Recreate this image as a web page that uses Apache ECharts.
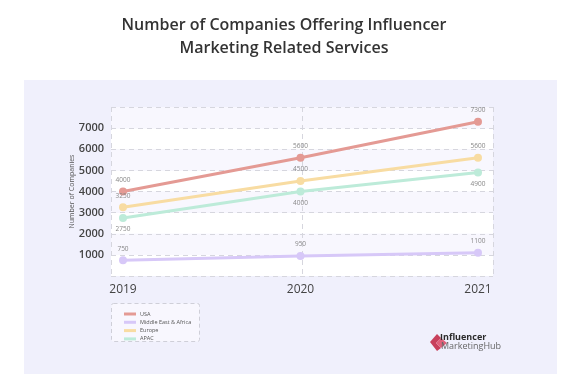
<!DOCTYPE html>
<html><head><meta charset="utf-8">
<script src="https://cdn.jsdelivr.net/npm/echarts@6/dist/echarts.min.js"></script>
<style>html,body{margin:0;padding:0;background:#fff}#c{width:578px;height:391px}</style>
</head><body><div id="c"></div>
<script>
var years = ['2019', '2020', '2021'];
var usa = [4000, 5600, 7300];
var mea = [750, 950, 1100];
var europe = [3250, 4500, 5600];
var apac = [2750, 4000, 4900];
var seriesNames = ['USA', 'Middle East & Africa', 'Europe', 'APAC'];
var colors = ['#e49a94', '#d7c8f8', '#f8dca2', '#bdebd9'];

var chart = echarts.init(document.getElementById('c'));
var GT = 107, GB = 115;
function mk(name, data, color, pos) {
  return {
    name: name, type: 'line', xAxisIndex: 1, yAxisIndex: 1, data: data,
    symbol: 'circle', symbolSize: 8,
    lineStyle: {color: color, width: 3},
    itemStyle: {color: color},
    label: {show: true, position: pos, distance: 4, fontSize: 6.5, color: '#888', fontFamily: 'Open Sans'},
    z: 5
  };
}
chart.setOption({
  animation: false,
  textStyle: {fontFamily: 'Open Sans'},
  title: {
    text: 'Number of Companies Offering Influencer\nMarketing Related Services',
    left: 279, top: 9, textAlign: 'center',
    textStyle: {fontSize: 16, fontWeight: 600, color: '#333', lineHeight: 23, fontFamily: 'Open Sans'}
  },
  graphic: [
    {type: 'rect', shape: {x: 24, y: 80, width: 533, height: 294}, style: {fill: '#f0f0fc'}, z: -10},
    {type: 'rect', shape: {x: 111.5, y: 303.5, width: 88, height: 38, r: 2}, style: {fill: '#f8f7fe', stroke: '#cfcfd8', lineWidth: 1, lineDash: [4, 3]}, z: -5},
    {type: 'polygon', shape: {points: [[430, 342], [437, 334], [441, 338], [436, 343], [441, 348], [437, 351]]}, style: {fill: '#c8405c'}, z: 10},
    {type: 'polygon', shape: {points: [[436, 343], [441, 338], [447, 343], [441, 348]]}, style: {fill: '#e0607a'}, z: 10},
    {type: 'text', x: 440, y: 337, style: {text: 'Influencer', fontSize: 9, fontWeight: 'bold', fill: '#2b2b2b', textVerticalAlign: 'middle', fontFamily: 'Open Sans'}, z: 10},
    {type: 'text', x: 441, y: 346.5, style: {text: 'MarketingHub', fontSize: 9, fill: '#666', textVerticalAlign: 'middle', fontFamily: 'Open Sans'}, z: 10}
  ],
  legend: {
    data: seriesNames, orient: 'vertical', left: 119, top: 306,
    icon: 'rect', itemWidth: 12, itemHeight: 3, itemGap: 2.3,
    textStyle: {fontSize: 5.5, color: '#555', padding: [0, 0, 0, -1]}
  },
  grid: [
    {left: 111, right: 85, top: GT, bottom: GB},
    {left: 123, right: 100, top: GT, bottom: GB}
  ],
  xAxis: [
    {gridIndex: 0, type: 'value', min: 0, max: 2, interval: 1,
     axisLine: {show: false}, axisTick: {show: false}, axisLabel: {show: false},
     splitLine: {show: true, lineStyle: {color: '#d6d6de', type: [5, 4], width: 1}}},
    {gridIndex: 1, type: 'category', data: years, boundaryGap: false,
     axisLine: {show: false}, axisTick: {show: false}, splitLine: {show: false},
     axisLabel: {color: '#444', fontSize: 12, fontWeight: 500, margin: 8}}
  ],
  yAxis: [
    {gridIndex: 0, type: 'value', min: 0, max: 8000, interval: 1000,
     name: 'Number of Companies', nameLocation: 'middle', nameGap: 36, nameMoveOverlap: false,
     nameTextStyle: {fontSize: 7, color: '#555'},
     axisLine: {show: false}, axisTick: {show: false},
     axisLabel: {color: '#444', fontSize: 11, fontWeight: 600, margin: 7,
       formatter: function (v) { return (v === 0 || v === 8000) ? '' : String(v); }},
     splitLine: {show: true, lineStyle: {color: '#d6d6de', type: [5, 4], width: 1}},
     splitArea: {show: true, areaStyle: {color: ['#ffffff', '#f8f7fe']}}},
    {gridIndex: 1, type: 'value', min: 0, max: 8000, interval: 1000, show: false}
  ],
  series: [
    mk(seriesNames[0], usa, colors[0], 'top'),
    mk(seriesNames[1], mea, colors[1], 'top'),
    mk(seriesNames[2], europe, colors[2], 'top'),
    mk(seriesNames[3], apac, colors[3], 'bottom')
  ]
});
</script></body></html>
